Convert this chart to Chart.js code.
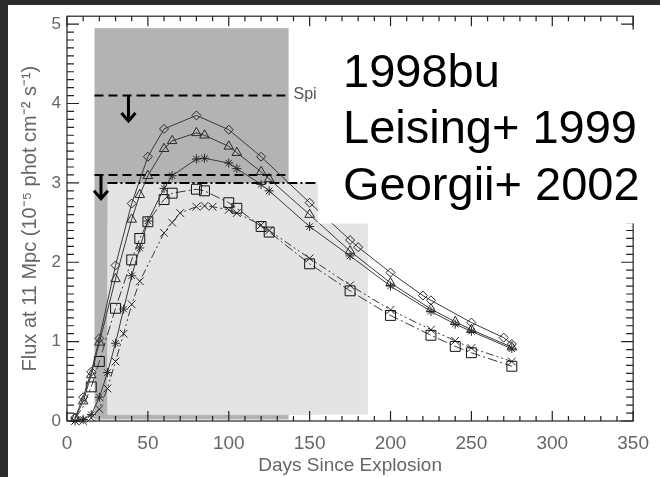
<!DOCTYPE html>
<html>
<head>
<meta charset="utf-8">
<script src="https://cdn.jsdelivr.net/npm/chart.js@4.4.1/dist/chart.umd.min.js"></script>
<style>
  html, body { margin: 0; padding: 0; background: #2b2b2b; }
  #sheet { position: absolute; left: 8px; top: 5px; width: 652px; height: 472px; background: #fff; }
  #wrap { position: absolute; left: 0; top: 0; width: 660px; height: 477px; }
</style>
</head>
<body>
<div id="sheet"></div>
<div id="wrap"><canvas id="fluxChart"></canvas></div>
<script>
// 847 keV line flux at 11 Mpc, in 1e-5 ph cm^-2 s^-1, vs days since explosion
const diamondDays = [5, 10, 15, 20, 30, 40, 50, 60, 80, 100, 120, 150, 175, 180, 200, 220, 225, 250, 270, 275];
const diamondFlux = [0.04, 0.30, 0.62, 1.04, 1.96, 2.74, 3.33, 3.68, 3.85, 3.67, 3.33, 2.75, 2.28, 2.19, 1.87, 1.58, 1.52, 1.24, 1.05, 0.97];

const triangleDays = [5, 10, 15, 20, 30, 40, 45, 50, 60, 65, 80, 85, 100, 105, 120, 125, 150, 175, 200, 225, 240, 250, 275];
const triangleFlux = [0.03, 0.25, 0.58, 0.99, 1.79, 2.54, 2.85, 3.09, 3.43, 3.53, 3.63, 3.60, 3.46, 3.38, 3.14, 3.05, 2.60, 2.14, 1.74, 1.41, 1.25, 1.15, 0.93];

const starDays = [5, 10, 15, 20, 25, 30, 35, 40, 45, 50, 60, 65, 80, 85, 100, 105, 120, 125, 150, 175, 200, 225, 240, 250, 275];
const starFlux = [0.0, 0.02, 0.08, 0.30, 0.61, 0.98, 1.41, 1.83, 2.18, 2.52, 2.93, 3.09, 3.30, 3.31, 3.25, 3.18, 2.98, 2.90, 2.45, 2.08, 1.70, 1.38, 1.22, 1.13, 0.91];

const squareDays = [5, 10, 15, 20, 30, 40, 45, 50, 60, 65, 80, 85, 100, 105, 120, 125, 150, 175, 200, 225, 240, 250, 275];
const squareFlux = [0.03, 0.18, 0.43, 0.75, 1.42, 2.03, 2.30, 2.51, 2.79, 2.87, 2.92, 2.90, 2.75, 2.68, 2.45, 2.38, 1.98, 1.64, 1.33, 1.08, 0.94, 0.86, 0.69];

const crossDays = [5, 10, 15, 20, 25, 30, 35, 40, 45, 60, 65, 70, 80, 85, 90, 100, 105, 120, 125, 150, 175, 200, 225, 240, 250, 275];
const crossFlux = [0.0, 0.0, 0.04, 0.15, 0.41, 0.75, 1.10, 1.47, 1.76, 2.37, 2.50, 2.62, 2.70, 2.71, 2.70, 2.66, 2.62, 2.47, 2.40, 2.05, 1.71, 1.40, 1.15, 1.01, 0.92, 0.75];

// upper limits: [day start, day end], flux level
const spiDays = [17, 135];
const spiUpper = 4.1;
const spiLower = 3.1;
const comptelDays = [25, 155];
const comptelLimit = 3.0;

// observation windows: [day start, day end, flux bottom, flux top]
const darkWindow = [17, 137, 0.02, 4.95];
const lightWindows = [[25, 155, 0.08, 3.0], [25, 186, 0.08, 2.49]];

// down arrows: day, from, to
const arrowDays = [38, 21];
const arrowFrom = [4.1, 3.1];
const arrowTo = [3.78, 2.8];

const xTicks = [0, 50, 100, 150, 200, 250, 300, 350];
const yTicks = [0, 1, 2, 3, 4, 5];
const noteLines = ['1998bu', 'Leising+ 1999', 'Georgii+ 2002'];

const pts = (days, flux) => days.map((d, i) => ({ x: d, y: flux[i] }));
const segment = (days, level) => days.map(d => ({ x: d, y: level }));

const ink = '#3a3a3a';
const labelGrey = '#666';

const curve = (data, style, radius, dash, color) => ({
  data,
  showLine: true,
  borderColor: ink,
  borderWidth: 1,
  borderDash: dash,
  pointStyle: style,
  pointRadius: radius,
  pointBorderColor: color || '#2a2a2a',
  pointBorderWidth: 1,
  pointBackgroundColor: 'rgba(0,0,0,0)',
  clip: false
});

const limitLine = (data, dash) => ({
  data,
  showLine: true,
  borderColor: '#000',
  borderWidth: 2,
  borderDash: dash,
  pointRadius: 0
});

const plotDecor = {
  id: 'plotDecor',
  beforeDatasetsDraw(chart) {
    const { ctx, scales: { x, y } } = chart;
    const fillWin = (w, color) => {
      const l = x.getPixelForValue(w[0]);
      const r = x.getPixelForValue(w[1]);
      const b = y.getPixelForValue(w[2]);
      const t = y.getPixelForValue(w[3]);
      ctx.fillStyle = color;
      ctx.fillRect(l, t, r - l, b - t);
    };
    ctx.save();
    fillWin(darkWindow, '#b3b3b3');
    lightWindows.forEach(w => fillWin(w, '#e4e4e4'));
    ctx.restore();
  },
  afterDatasetsDraw(chart) {
    const { ctx, chartArea: a, scales: { x, y } } = chart;
    ctx.save();

    // arrows under the limits
    ctx.strokeStyle = '#000';
    ctx.lineWidth = 3;
    arrowDays.forEach((d, i) => {
      const cx = x.getPixelForValue(d);
      const y0 = y.getPixelForValue(arrowFrom[i]);
      const y1 = y.getPixelForValue(arrowTo[i]);
      ctx.beginPath();
      ctx.moveTo(cx, y0);
      ctx.lineTo(cx, y1);
      ctx.moveTo(cx - 7, y1 - 8);
      ctx.lineTo(cx, y1);
      ctx.lineTo(cx + 7, y1 - 8);
      ctx.stroke();
    });

    ctx.fillStyle = '#555';
    ctx.font = '16px "Liberation Sans", Arial, sans-serif';
    ctx.textBaseline = 'middle';
    ctx.fillText('Spi', x.getPixelForValue(140), y.getPixelForValue(spiUpper) - 1);

    // frame with inward major/minor ticks
    ctx.strokeStyle = '#222';
    ctx.lineWidth = 1.2;
    ctx.strokeRect(a.left, a.top, a.right - a.left, a.bottom - a.top);
    ctx.beginPath();
    for (let d = 0; d <= 350; d += 10) {
      const px = x.getPixelForValue(d);
      const len = d % 50 === 0 ? 10 : 5;
      ctx.moveTo(px, a.bottom); ctx.lineTo(px, a.bottom - len);
      ctx.moveTo(px, a.top); ctx.lineTo(px, a.top + len);
    }
    for (let k = 0; k <= 50; k++) {
      const py = y.getPixelForValue(k / 10);
      const len = k % 10 === 0 ? 12 : 7;
      ctx.moveTo(a.left, py); ctx.lineTo(a.left + len, py);
      ctx.moveTo(a.right, py); ctx.lineTo(a.right - len, py);
    }
    ctx.stroke();

    // note box over the upper right corner
    const boxL = x.getPixelForValue(comptelDays[1]) + 0.5;
    const boxB = y.getPixelForValue(2.49);
    const boxT = y.getPixelForValue(4.93);
    ctx.fillStyle = '#fff';
    ctx.fillRect(boxL, boxT, chart.width - boxL, boxB - boxT);

    ctx.fillStyle = '#000';
    ctx.font = '47px "Liberation Sans", Arial, sans-serif';
    ctx.textBaseline = 'alphabetic';
    noteLines.forEach((t, i) => ctx.fillText(t, 343, 86.5 + i * 56.7));
    ctx.restore();
  }
};

new Chart(document.getElementById('fluxChart'), {
  type: 'scatter',
  data: {
    datasets: [
      curve(pts(diamondDays, diamondFlux), 'rectRot', 4.5, []),
      curve(pts(triangleDays, triangleFlux), 'triangle', 5.5, []),
      curve(pts(starDays, starFlux), 'star', 4.5, []),
      // the square curve carries no symbols before day 15
      curve(pts(squareDays, squareFlux), 'rect', squareDays.map(d => (d < 15 ? 0 : 7)), [10, 3, 2, 3], '#111'),
      curve(pts(crossDays, crossFlux), 'crossRot', 5.5, [8, 3, 2, 3, 2, 3]),
      limitLine(segment(spiDays, spiUpper), [9, 5]),
      limitLine(segment(spiDays, spiLower), [9, 5]),
      limitLine(segment(comptelDays, comptelLimit), [10, 3, 2, 3])
    ]
  },
  options: {
    responsive: true,
    maintainAspectRatio: false,
    animation: false,
    layout: { padding: { left: 0, top: 14, right: 19, bottom: 0 } },
    plugins: { legend: { display: false }, tooltip: { enabled: false } },
    scales: {
      x: {
        type: 'linear',
        min: 0,
        max: 350,
        afterBuildTicks: s => { s.ticks = xTicks.map(v => ({ value: v })); },
        afterFit: s => { s.height = 56; },
        grid: { display: false, drawTicks: false },
        border: { display: false },
        ticks: { color: labelGrey, padding: 11, font: { family: '"Liberation Sans", Arial', size: 19 } },
        title: {
          display: true,
          text: 'Days Since Explosion',
          color: labelGrey,
          padding: { top: 0, bottom: 0 },
          font: { family: '"Liberation Sans", Arial', size: 19 }
        }
      },
      y: {
        min: 0,
        max: 5.1,
        afterBuildTicks: s => { s.ticks = yTicks.map(v => ({ value: v })); },
        afterFit: s => { s.width = 67; },
        grid: { display: false, drawTicks: false },
        border: { display: false },
        ticks: { color: labelGrey, padding: 6, font: { family: '"Liberation Sans", Arial', size: 17 } },
        title: {
          display: true,
          text: 'Flux at 11 Mpc (10⁻⁵ phot cm⁻² s⁻¹)',
          color: labelGrey,
          padding: { top: 18, bottom: 0 },
          font: { family: '"Liberation Sans", Arial', size: 20 }
        }
      }
    }
  },
  plugins: [plotDecor]
});
</script>
</body>
</html>
